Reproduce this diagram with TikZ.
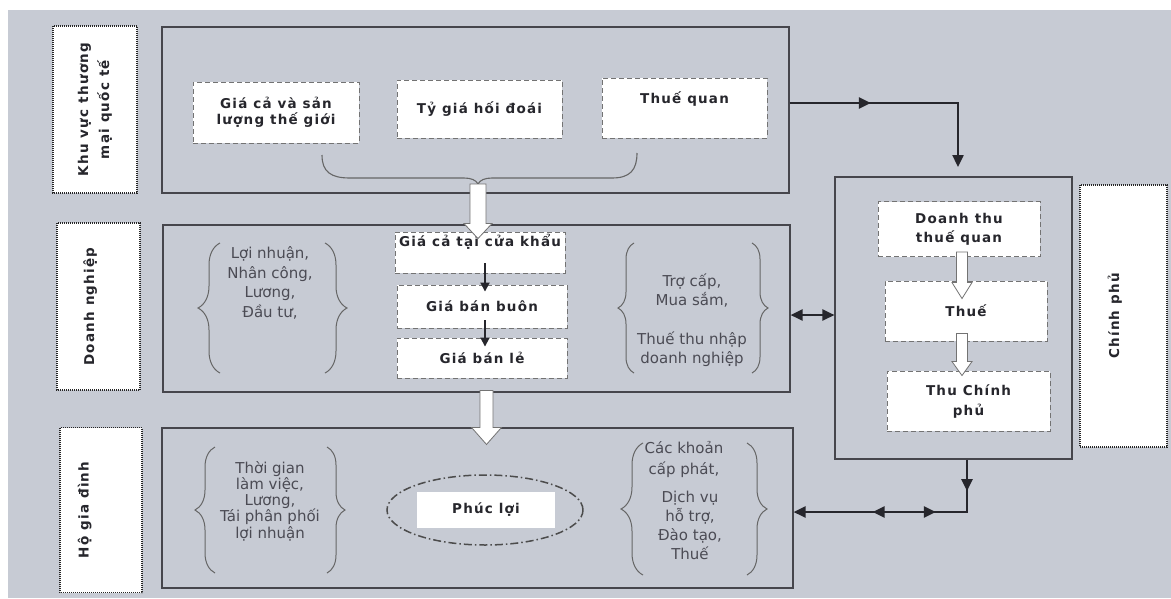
\documentclass[tikz,border=0pt]{standalone}
\usepackage{fontspec}
\setmainfont{DejaVu Sans}
\newfontfamily\bxfont[LetterSpace=9]{DejaVu Sans}
\usetikzlibrary{arrows.meta,decorations.pathreplacing,decorations.markings,shapes.geometric,calc}
\definecolor{bgc}{RGB}{199,203,212}
\definecolor{edge}{RGB}{70,70,76}
\definecolor{ink}{RGB}{38,38,44}
\definecolor{soft}{RGB}{75,75,84}
% hollow block arrow: #1 start, #2 tip, #3 half shaft, #4 half head, #5 head length
\newcommand\fatarrow[5]{%
  \draw[hollow] let \p1=(#1), \p2=(#2) in
    (\x1-#3pt,\y1) -- (\x1+#3pt,\y1) -- (\x1+#3pt,\y2+#5pt) -- (\x1+#4pt,\y2+#5pt)
    -- (\x1,\y2) -- (\x1-#4pt,\y2+#5pt) -- (\x1-#3pt,\y2+#5pt) -- cycle;}
\begin{document}
\begin{tikzpicture}[x=1pt,y=-1pt,
  panel/.style={draw=edge, line width=1.1pt, inner sep=0pt},
  wbox/.style={draw=black!55, fill=white, dash pattern=on 5pt off 3pt, line width=0.9pt,
    inner sep=2pt, align=center, text=ink, font=\bxfont\bfseries\fontsize{13.5}{18}\selectfont},
  lbox/.style={draw=black!85, fill=white, dash pattern=on 1pt off 1pt, line width=1.2pt,
    inner sep=2pt, rotate=90, align=center, text=ink, font=\bxfont\bfseries\fontsize{13.5}{21}\selectfont},
  raise/.style={text height=10pt, text depth=#1},
  btxt/.style={align=center, text=soft, inner sep=0pt},
  brc/.style={draw=black!60, line width=1pt, decorate, decoration={brace, amplitude=#1}},
  conn/.style={draw=ink, line width=2.4pt, -{Triangle[length=12pt,width=11pt]}},
  sconn/.style={draw=ink, line width=1.8pt, -{Triangle[length=9pt,width=9pt]}},
  hollow/.style={fill=white, draw=black!55, line width=0.8pt, line join=miter}]
\useasboundingbox (0,0) rectangle (1171,598);
\fill[bgc] (8,10) rectangle (1171,598);

% panels
\node[panel, minimum width=627pt, minimum height=166pt] (tp) at (475.5,110) {};
\node[panel, minimum width=627pt, minimum height=167pt] (mp) at (476.5,308.5) {};
\node[panel, minimum width=631pt, minimum height=160pt] (bp) at (477.5,508) {};
\node[panel, minimum width=237pt, minimum height=282pt] (rp) at (953.5,318) {};

% sector labels
\node[lbox, minimum width=167pt, minimum height=84pt] (l1) at (95,109.5) {Khu vực thương\\mại quốc tế};
\node[lbox, raise=19pt, minimum width=167pt, minimum height=83pt] (l2) at (98.5,306.5) {Doanh nghiệp};
\node[lbox, raise=35pt, minimum width=165pt, minimum height=82pt] (l3) at (101,510) {Hộ gia đình};
\node[lbox, raise=19pt, minimum width=262pt, minimum height=87pt] (l4) at (1123.5,316) {Chính phủ};

% top panel boxes
\node[wbox, font=\bxfont\bfseries\fontsize{13.5}{16.5}\selectfont, minimum width=166pt, minimum height=61pt] (g1) at (276,112.5) {Giá cả và sản\\lượng thế giới};
\node[wbox, minimum width=165pt, minimum height=58pt] (g2) at (479.5,109) {Tỷ giá hối đoái};
\node[wbox, raise=19pt, minimum width=165pt, minimum height=60pt] (g3) at (684.5,108) {Thuế quan};

% middle panel boxes
\node[wbox, raise=22pt, minimum width=170pt, minimum height=41pt] (p1) at (480,252.5) {Giá cả tại cửa khẩu};
\node[wbox, minimum width=170pt, minimum height=43pt] (p2) at (482,306.5) {Giá bán buôn};
\node[wbox, minimum width=170pt, minimum height=40pt] (p3) at (482,358) {Giá bán lẻ};

% government boxes
\node[wbox, font=\bxfont\bfseries\fontsize{13.5}{19}\selectfont, minimum width=162pt, minimum height=55pt] (d1) at (959,229) {Doanh thu\\thuế quan};
\node[wbox, minimum width=162pt, minimum height=60pt] (d2) at (966,311) {Thuế};
\node[wbox, font=\bxfont\bfseries\fontsize{13.5}{20}\selectfont, minimum width=163pt, minimum height=60pt] (d3) at (968.5,401) {Thu Chính\\phủ};

% household welfare
\node[ellipse, draw=black!70, line width=1.5pt, dash pattern=on 8pt off 3pt on 1.5pt off 3pt,
  minimum width=196pt, minimum height=70pt] (el) at (485,510) {};
\node[wbox, draw=none, minimum width=138pt, minimum height=36pt] (pl) at (486,510) {Phúc lợi};

% top brace
\draw[black!60, line width=1.1pt] (322,155) .. controls (322,172) and (331,178) .. (350,178)
  -- (464,178) .. controls (471,178) and (476,180) .. (478,184)
  .. controls (480,180) and (485,178) .. (492,178) -- (612,178)
  .. controls (630,178) and (637,170) .. (637,153);
\coordinate (bt) at (478,184);

% brace groups
\draw[brc=22pt] (220,373) -- (220,243);
\draw[brc=22pt] (325,243) -- (325,373);
\node[btxt, font=\fontsize{15}{19.5}\selectfont] (t1) at (270,283) {Lợi nhuận,\\Nhân công,\\Lương,\\Đầu tư,};

\draw[brc=16pt] (634,373) -- (634,243);
\draw[brc=16pt] (752,243) -- (752,373);
\node[btxt, font=\fontsize{15}{19}\selectfont] (t2) at (692,320) {Trợ cấp,\\Mua sắm,\\[20pt]Thuế thu nhập\\doanh nghiệp};

\draw[brc=20pt] (215,573) -- (215,447);
\draw[brc=18pt] (327,447) -- (327,573);
\node[btxt, font=\fontsize{15}{16.3}\selectfont] (t3) at (270,501) {Thời gian\\làm việc,\\Lương,\\Tái phân phối\\lợi nhuận};

\draw[brc=22pt] (643,575) -- (643,443);
\draw[brc=20pt] (747,443) -- (747,575);
\node[btxt, font=\fontsize{15}{21}\selectfont] (t4) at (684,459) {Các khoản\\cấp phát,};
\node[btxt, font=\fontsize{15}{19}\selectfont] (t5) at (690,525) {Dịch vụ\\hỗ trợ,\\Đào tạo,\\Thuế};

% connectors
\coordinate (c1) at (958,167);
\draw[conn, postaction={decorate}, decoration={markings,
  mark=at position 0.35 with {\arrow{Triangle[length=12pt,width=11pt]}}}]
  ([yshift=7pt]tp.east) -| (c1);

\coordinate (c2) at (967,512);
\draw[conn, postaction={decorate}, decoration={markings,
  mark=at position 0.14 with {\arrow{Triangle[length=12pt,width=11pt]}},
  mark=at position 0.37 with {\arrowreversed{Triangle[length=12pt,width=11pt]}},
  mark=at position 0.65 with {\arrow{Triangle[length=12pt,width=11pt]}}}]
  ([xshift=13.5pt]rp.south) -- (c2) -- (bp.east |- c2);

\draw[conn, {Triangle[length=12pt,width=11pt]}-{Triangle[length=12pt,width=11pt]}]
  ([yshift=-6.5pt]mp.east) -- ([yshift=3pt]rp.west);

\draw[sconn] ([xshift=5pt,yshift=10pt]p1.south) -- ([xshift=3pt,yshift=-7pt]p2.north);
\draw[sconn] ([xshift=3pt,yshift=8pt]p2.south) -- ([xshift=3pt,yshift=-9pt]p3.north);

% hollow arrows
\fatarrow{bt}{[yshift=-7pt]p1.north}{8}{14}{15}
\fatarrow{[xshift=10pt,yshift=2pt]mp.south}{[yshift=-17pt]bp.north}{6.5}{15}{17}
\fatarrow{[xshift=3pt,yshift=5pt]d1.south}{[yshift=-18pt]d2.north}{5.5}{10}{16}
\fatarrow{[xshift=-4pt,yshift=8pt]d2.south}{[yshift=-5pt]d3.north}{5.5}{10}{14}
\end{tikzpicture}
\end{document}
